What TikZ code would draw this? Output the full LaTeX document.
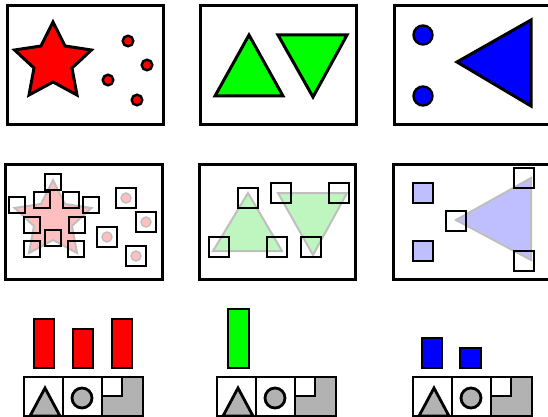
\documentclass[tikz,border=0pt]{standalone}
\begin{document}
\begin{tikzpicture}[x=1pt,y=-1pt,
  panel/.style={draw=black,line width=3pt},
  solid shape/.style={draw=black,line width=3pt,line join=miter},
  dot/.style={draw=black,line width=2.4pt},
  pale/.style={draw=black!25,line width=2pt,line join=miter},
  det/.style={draw=black,line width=2.8pt},
  bar/.style={draw=black,line width=2.8pt},
  icon/.style={draw=black,line width=2.8pt},
  gfill/.style={fill=black!30}
]
\useasboundingbox (0,0) rectangle (548,417);
\fill[white] (0,0) rectangle (548,417);
\definecolor{pinkc}{RGB}{255,191,191}
\definecolor{lgreen}{RGB}{191,245,191}
\definecolor{lblue}{RGB}{191,191,255}

% ---------- Row 1 ----------
\draw[panel] (7,6) rectangle (163,124);
\draw[panel] (200,6) rectangle (356,124);
\draw[panel] (394,6) rectangle (560,124);

% star
\draw[solid shape,fill=red]
  (53,22) -- (65,46) -- (91.4,50) -- (72,68) -- (77,95) -- (53,82)
  -- (29,95) -- (34,68) -- (14.6,50) -- (41,46) -- cycle;
\foreach \p in {(128,41),(147,65),(108,80),(137,100)}
  \draw[dot,fill=red] \p circle (5.3);

% green triangles
\draw[solid shape,fill=green] (249,35) -- (283,96) -- (215,96) -- cycle;
\draw[solid shape,fill=green] (278,35) -- (347,35) -- (313,97) -- cycle;

% blue
\draw[dot,fill=blue] (423,35) circle (9.5);
\draw[dot,fill=blue] (423,96) circle (9.5);
\draw[solid shape,fill=blue] (457,62) -- (531,20) -- (531,106) -- cycle;

% ---------- Row 2 ----------
\draw[panel] (5,164) rectangle (162,279);
\draw[panel] (199,164) rectangle (355,279);
\draw[panel] (393,164) rectangle (560,279);

% pale star
\draw[pale,fill=pinkc]
  (53,180) -- (65,204) -- (91.4,208) -- (72,226) -- (77,253) -- (53,240)
  -- (29,253) -- (34,226) -- (14.6,208) -- (41,204) -- cycle;
\foreach \p in {(53,182),(17,205),(91,205),(42,200),(71,200),(32,225),(77,225),(53,238),(32,249),(76,249)}
  \draw[det] \p ++(-8,-8) rectangle ++(16,16);
\foreach \p in {(126,198),(146,222),(107,237),(136,256)}{
  \draw[pale,fill=pinkc,line width=1.4pt] \p circle (5);
  \draw[det] \p ++(-10,-10) rectangle ++(20,20);
}

% pale green triangles
\draw[pale,fill=lgreen] (248,193) -- (282,251) -- (213,251) -- cycle;
\draw[pale,fill=lgreen] (278,193) -- (347,193) -- (313,255) -- cycle;
\foreach \p in {(248,198),(281,193),(339,193),(219,247),(277,247),(311,247)}
  \draw[det] \p ++(-10,-10) rectangle ++(20,20);

% pale blue
\draw[det,fill=lblue] (413,183) rectangle (433,203);
\draw[det,fill=lblue] (413,241) rectangle (433,261);
\draw[pale,fill=lblue] (456,220) -- (531,178) -- (531,260) -- cycle;
\foreach \p in {(456,221),(524,178),(524,261)}
  \draw[det] \p ++(-10,-10) rectangle ++(20,20);

% ---------- Row 3 ----------
% bars
\draw[bar,fill=red] (34,319) rectangle (54,368);
\draw[bar,fill=red] (73,329) rectangle (93,368);
\draw[bar,fill=red] (112,319) rectangle (132,368);
\draw[bar,fill=green] (228,309) rectangle (249,368);
\draw[bar,fill=blue] (422,338) rectangle (442,368);
\draw[bar,fill=blue] (460,348) rectangle (481,368);

% icon rows
\foreach \x in {24,217,413}{
  \begin{scope}[shift={(\x,0)}]
    % cell 3 background
    \fill[gfill] (78,377) rectangle (119,416);
    \fill[white] (78,377) rectangle (98,396);
    \draw[icon] (78,396) -- (98,396) -- (98,377);
    % triangle
    \draw[icon,gfill,line join=miter] (21,388) -- (36,416) -- (6,416) -- cycle;
    % circle
    \draw[icon,gfill] (58,398) circle (10);
    % cells
    \draw[icon] (0,377) rectangle (119,416);
    \draw[icon] (39,377) -- (39,416);
    \draw[icon] (78,377) -- (78,416);
  \end{scope}
}
\end{tikzpicture}
\end{document}
